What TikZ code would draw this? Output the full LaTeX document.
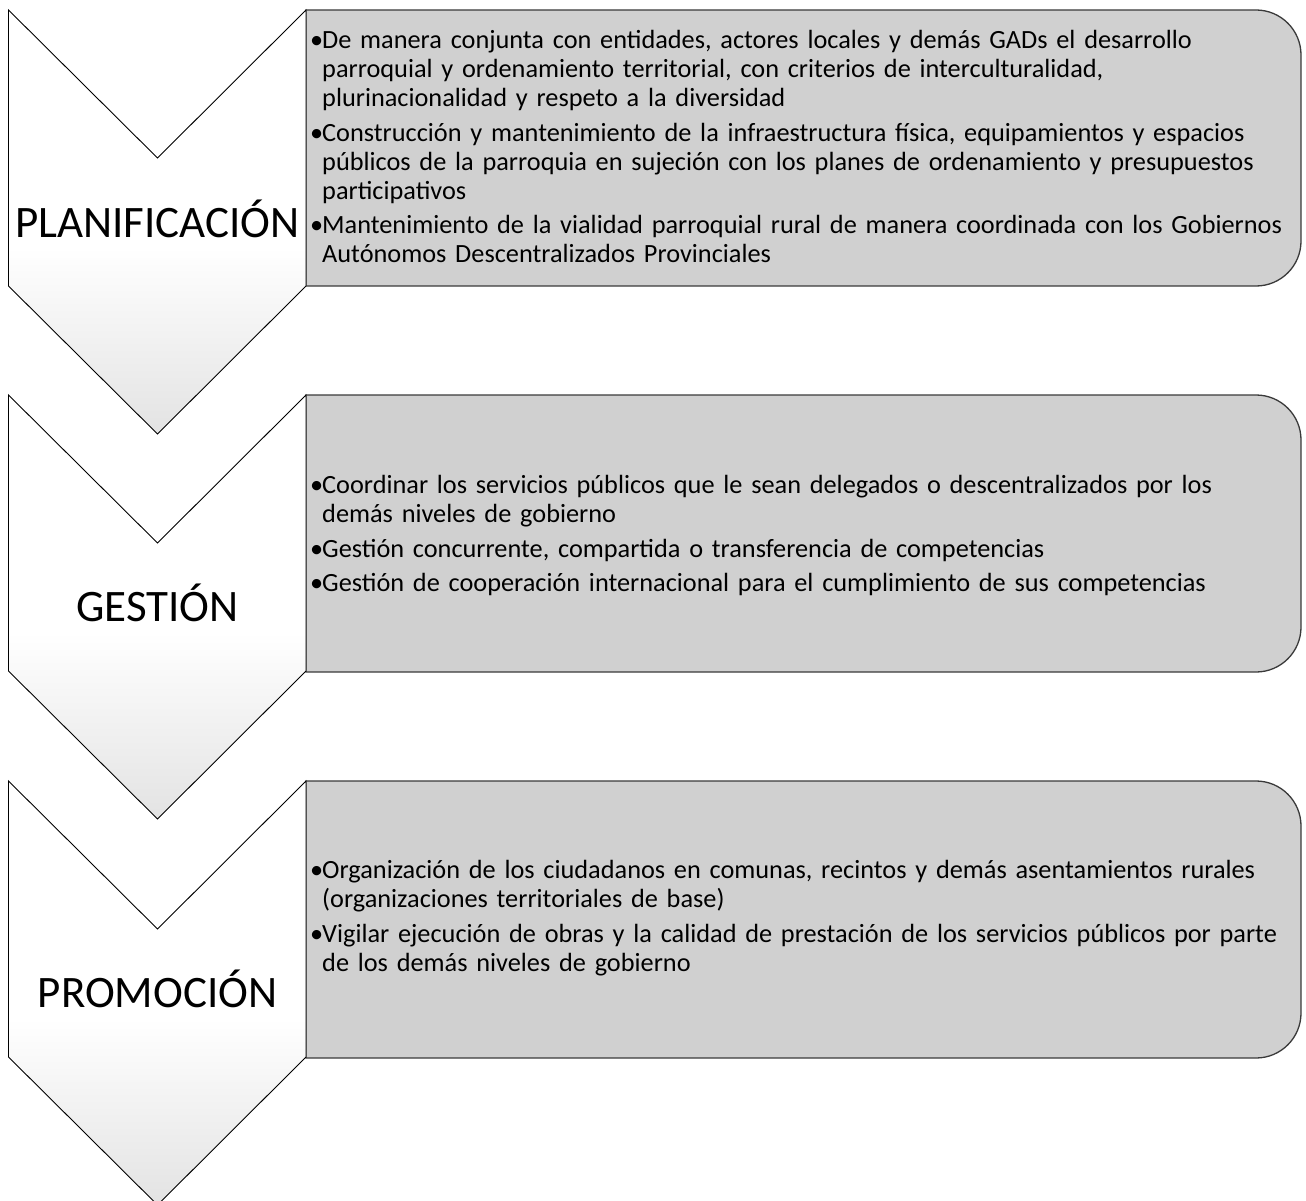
\documentclass[tikz,border=0pt]{standalone}
\usepackage{fontspec}
\setmainfont{Carlito}
\pgfdeclareverticalshading{chevshade}{100bp}{color(0bp)=(black!11); color(25bp)=(black!11); color(47bp)=(white); color(100bp)=(white)}
\definecolor{boxgray}{HTML}{D0D0D0}
\definecolor{boxline}{HTML}{3A3A3A}
\newcommand{\itm}[1]{\par\hangindent=12pt\hangafter=1\noindent\makebox[12pt][l]{•}#1\par}
\tikzset{
  chev/.style={draw=black, line width=0.9pt, shading=chevshade},
  panel/.style={draw=boxline, line width=1.3pt, fill=boxgray},
  chevlabel/.style={anchor=base, inner sep=0pt, font=\fontsize{45}{54}\selectfont},
  paneltext/.style={anchor=west, inner sep=0pt, text width=990pt,
    font=\fontsize{26.3}{29}\selectfont,
    execute at begin node={\raggedright\setlength{\parskip}{5.3pt}}}
}
\newcommand{\panelpath}[2]{%
  \path[panel] (306,-#1) -- (1256,-#1) arc[start angle=90,end angle=0,radius=45]
    -- (1301,-#2+45) arc[start angle=0,end angle=-90,radius=45] -- (306,-#2) -- cycle;}
\newcommand{\chevpath}[1]{%
  \path[chev] (8.5,-#1) -- (157.5,-#1-148) -- (306,-#1) -- (306,-#1-276)
    -- (157.5,-#1-424) -- (8.5,-#1-276) -- cycle;}
\begin{document}
\begin{tikzpicture}[x=1pt,y=1pt]
\useasboundingbox (0,0) rectangle (1306,-1201);
% stage 1
\panelpath{10}{286}
\chevpath{10}
\node[chevlabel] (lab1) at (157.5,-237) {PLANIFICACIÓN};
\node[paneltext] (txt1) at (310,-138.5) {%
\itm{De manera conjunta con entidades, actores locales y demás GADs el desarrollo\newline parroquial y ordenamiento territorial, con criterios de interculturalidad,\newline plurinacionalidad y respeto a la diversidad}
\itm{Construcción y mantenimiento de la infraestructura física, equipamientos y espacios\newline públicos de la parroquia en sujeción con los planes de ordenamiento y presupuestos\newline participativos}
\itm{Mantenimiento de la vialidad parroquial rural de manera coordinada con los Gobiernos\newline Autónomos Descentralizados Provinciales}};
% stage 2
\panelpath{395}{672}
\chevpath{395}
\node[chevlabel] (lab2) at (157.5,-621) {GESTIÓN};
\node[paneltext] (txt2) at (310,-527.5) {%
\itm{Coordinar los servicios públicos que le sean delegados o descentralizados por los\newline demás niveles de gobierno}
\itm{Gestión concurrente, compartida o transferencia de competencias}
\itm{Gestión de cooperación internacional para el cumplimiento de sus competencias}};
% stage 3
\panelpath{781}{1058}
\chevpath{781}
\node[chevlabel] (lab3) at (157.5,-1007) {PROMOCIÓN};
\node[paneltext] (txt3) at (310,-910) {%
\itm{Organización de los ciudadanos en comunas, recintos y demás asentamientos rurales\newline (organizaciones territoriales de base)}
\itm{Vigilar ejecución de obras y la calidad de prestación de los servicios públicos por parte\newline de los demás niveles de gobierno}};
\end{tikzpicture}
\end{document}
